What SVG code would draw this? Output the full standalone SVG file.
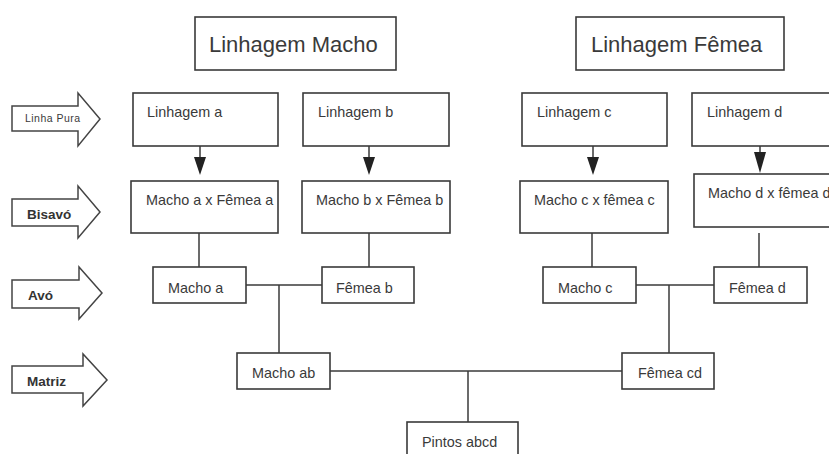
<svg xmlns="http://www.w3.org/2000/svg" width="829" height="454" viewBox="0 0 829 454">
<style>
.box{fill:#fff;stroke:#3a3a3a;stroke-width:1.6}
.ln{fill:none;stroke:#3a3a3a;stroke-width:1.5}
.t{font-family:"Liberation Sans",Arial,sans-serif;font-size:14.4px;fill:#3a3a3a}
.big{font-size:22px}
.lbl{font-family:"Liberation Sans",Arial,sans-serif;font-size:13.5px;font-weight:bold;fill:#333}
.side{fill:#fff;stroke:#444;stroke-width:1.5;stroke-linejoin:miter}
.ah{fill:#222}
</style>
<rect width="829" height="454" fill="#fff"/>
<g id="side-arrows">
<g id="linha-pura"><path class="side" d="M12,106 H78 V93 L100,119 L78,146 V131 H12 Z"/><text class="t" x="25" y="122" style="font-size:10.5px" textLength="55">Linha Pura</text></g>
<g id="bisavo"><path class="side" d="M12,199 H78 V186 L100,212 L78,238 V226 H12 Z"/><text class="lbl" x="27" y="219">Bisavó</text></g>
<g id="avo"><path class="side" d="M12,280 H79 V267 L102,293 L79,319 V308 H12 Z"/><text class="lbl" x="28" y="300">Avó</text></g>
<g id="matriz"><path class="side" d="M12,366 H83 V354 L107,380 L83,406 V393 H12 Z"/><text class="lbl" x="27" y="386">Matriz</text></g>
</g>
<g id="connectors">
<line class="ln" x1="200" y1="146" x2="200" y2="158"/><path class="ah" d="M194,157 H206 L200,175 Z"/>
<line class="ln" x1="369" y1="146" x2="369" y2="158"/><path class="ah" d="M363,157 H375 L369,175 Z"/>
<line class="ln" x1="593" y1="146" x2="593" y2="158"/><path class="ah" d="M587,157 H599 L593,175 Z"/>
<line class="ln" x1="760" y1="146" x2="760" y2="153"/><path class="ah" d="M754,152 H766 L760,173 Z"/>
<line class="ln" x1="199" y1="233" x2="199" y2="267"/>
<line class="ln" x1="369" y1="233" x2="369" y2="267"/>
<line class="ln" x1="592" y1="233" x2="592" y2="267"/>
<line class="ln" x1="759" y1="233" x2="759" y2="267"/>
<line class="ln" x1="246" y1="285" x2="322" y2="285"/>
<line class="ln" x1="279" y1="285" x2="279" y2="353"/>
<line class="ln" x1="636" y1="285" x2="714" y2="285"/>
<line class="ln" x1="669" y1="285" x2="669" y2="353"/>
<line class="ln" x1="330" y1="371" x2="622" y2="371"/>
<line class="ln" x1="468" y1="371" x2="468" y2="422"/>
</g>
<g id="linhagem-macho"><rect class="box" x="195" y="17" width="201" height="53"/><text class="t big" x="209" y="52">Linhagem Macho</text></g>
<g id="linhagem-femea"><rect class="box" x="576" y="17" width="208" height="53"/><text class="t big" x="591" y="52">Linhagem Fêmea</text></g>
<g id="linhagem-a"><rect class="box" x="133" y="93" width="145" height="53"/><text class="t" x="147" y="117">Linhagem a</text></g>
<g id="linhagem-b"><rect class="box" x="303" y="93" width="146" height="53"/><text class="t" x="318" y="117">Linhagem b</text></g>
<g id="linhagem-c"><rect class="box" x="522" y="93" width="145" height="53"/><text class="t" x="537" y="117">Linhagem c</text></g>
<g id="linhagem-d"><rect class="box" x="692" y="93" width="145" height="53"/><text class="t" x="707" y="117">Linhagem d</text></g>
<g id="bisavo-a"><rect class="box" x="131" y="181" width="147" height="52"/><text class="t" x="146" y="205">Macho a x Fêmea a</text></g>
<g id="bisavo-b"><rect class="box" x="302" y="181" width="148" height="52"/><text class="t" x="316" y="205">Macho b x Fêmea b</text></g>
<g id="bisavo-c"><rect class="box" x="520" y="181" width="148" height="52"/><text class="t" x="534" y="205">Macho c x fêmea c</text></g>
<g id="bisavo-d"><rect class="box" x="694" y="174" width="145" height="53"/><text class="t" x="708" y="198">Macho d x fêmea d</text></g>
<g id="macho-a"><rect class="box" x="153" y="267" width="93" height="36"/><text class="t" x="168" y="293">Macho a</text></g>
<g id="femea-b"><rect class="box" x="322" y="267" width="92" height="36"/><text class="t" x="336" y="293">Fêmea b</text></g>
<g id="macho-c"><rect class="box" x="543" y="267" width="93" height="36"/><text class="t" x="558" y="293">Macho c</text></g>
<g id="femea-d"><rect class="box" x="714" y="267" width="93" height="36"/><text class="t" x="729" y="293">Fêmea d</text></g>
<g id="macho-ab"><rect class="box" x="237" y="353" width="93" height="36"/><text class="t" x="252" y="378">Macho ab</text></g>
<g id="femea-cd"><rect class="box" x="622" y="353" width="92" height="36"/><text class="t" x="638" y="378">Fêmea cd</text></g>
<g id="pintos-abcd"><rect class="box" x="407" y="422" width="111" height="40"/><text class="t" x="422" y="447">Pintos abcd</text></g>
</svg>
